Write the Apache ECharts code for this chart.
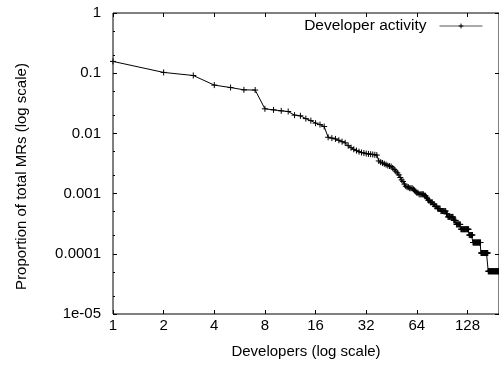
<!DOCTYPE html>
<html>
<head>
<meta charset="utf-8">
<script src="https://cdn.jsdelivr.net/npm/echarts@6/dist/echarts.min.js"></script>
<style>
    html, body { margin: 0; padding: 0; background: #fff; }
    #chart { width: 499px; height: 366px; }
</style>
</head>
<body>
<div id="chart"></div>
<script>
// share of all MRs per developer, ranked from most to least active (rank = index + 1)
const share = [
    0.157, 0.103, 0.0916, 0.0634, 0.0578, 0.0529, 0.0525,
    0.0256, 0.0246, 0.0237, 0.0231, 0.0201, 0.0196, 0.0176, 0.0163, 0.0148, 0.0140, 0.0130,
    0.00862, 0.00836, 0.00810, 0.00769, 0.00728, 0.00697, 0.00626, 0.00579, 0.00544, 0.00518,
    0.00497, 0.00482, 0.00472, 0.00462, 0.00456, 0.00451, 0.00446, 0.00441, 0.00436,
    0.00349, 0.00333, 0.00323, 0.00313, 0.00303, 0.00292, 0.00287, 0.00282, 0.00267,
    0.00251, 0.00236, 0.00221, 0.00205, 0.00185, 0.00169, 0.00159, 0.00144, 0.00133,
    0.00128, 0.00128, 0.00123, 0.00123, 0.00123, 0.00118, 0.00113, 0.00108, 0.00103, 0.00103,
    0.000974, 0.000974, 0.000974, 0.000974, 0.000974, 0.000923, 0.000923,
    0.000872, 0.000821, 0.000769, 0.000769, 0.000718, 0.000718, 0.000718, 0.000667, 0.000667,
    0.000615, 0.000615, 0.000615, 0.000564, 0.000564, 0.000564, 0.000564,
    0.000513, 0.000513, 0.000513, 0.000513, 0.000513, 0.000513, 0.000513, 0.000462, 0.000462,
    0.000410, 0.000410, 0.000410, 0.000410, 0.000410, 0.000410, 0.000410, 0.000410,
    0.000359, 0.000359, 0.000359, 0.000359,
    0.000308, 0.000308, 0.000308, 0.000308, 0.000308, 0.000308, 0.000308,
    0.000256, 0.000256, 0.000256, 0.000256, 0.000256, 0.000256, 0.000256,
    0.000256, 0.000256, 0.000256, 0.000256, 0.000256, 0.000256, 0.000256,
    0.000205, 0.000205, 0.000205, 0.000205, 0.000205, 0.000205, 0.000205,
    0.000154, 0.000154, 0.000154, 0.000154, 0.000154, 0.000154, 0.000154, 0.000154,
    0.000154, 0.000154, 0.000154, 0.000154, 0.000154, 0.000154, 0.000154, 0.000154,
    0.000103, 0.000103, 0.000103, 0.000103, 0.000103, 0.000103, 0.000103, 0.000103,
    0.000103, 0.000103, 0.000103, 0.000103, 0.000103, 0.000103, 0.000103, 0.000103,
    0.0000513, 0.0000513, 0.0000513, 0.0000513, 0.0000513, 0.0000513, 0.0000513,
    0.0000513, 0.0000513, 0.0000513, 0.0000513, 0.0000513, 0.0000513, 0.0000513,
    0.0000513, 0.0000513, 0.0000513, 0.0000513, 0.0000513, 0.0000513, 0.0000513,
    0.0000513, 0.0000513, 0.0000513, 0.0000513, 0.0000513, 0.0000513, 0.0000513
];
const xTicks = [1, 2, 4, 8, 16, 32, 64, 128];
const yTicks = [1e-5, 1e-4, 1e-3, 0.01, 0.1, 1];
const yTickLabels = ['1e-05', '0.0001', '0.001', '0.01', '0.1', '1'];
const yMinorTicks = [2e-5, 5e-5, 2e-4, 5e-4, 0.002, 0.005, 0.02, 0.05, 0.2, 0.5];

const font = '"Liberation Sans", Arial, sans-serif';
const black = '#000';

const chart = echarts.init(document.getElementById('chart'));

// shared settings for the log x axes (bottom + mirrored top)
function xAxisBase(pos) {
    return {
        type: 'log',
        logBase: 2,
        min: 1,
        max: 197,
        position: pos,
        axisLine: { show: false },
        splitLine: { show: false },
        axisTick: {
            inside: true,
            length: 4,
            lineStyle: { color: black },
            customValues: xTicks
        }
    };
}

function yAxisBase(pos) {
    return {
        type: 'log',
        logBase: 10,
        min: 1e-5,
        max: 1,
        position: pos,
        axisLine: { show: false },
        splitLine: { show: false },
        axisTick: {
            inside: true,
            length: 4,
            lineStyle: { color: black },
            customValues: yTicks
        }
    };
}

const bottomX = xAxisBase('bottom');
bottomX.name = 'Developers (log scale)';
bottomX.nameLocation = 'middle';
bottomX.nameGap = 30;
bottomX.nameTextStyle = { fontFamily: font, fontSize: 15, color: black };
bottomX.axisLabel = {
    customValues: xTicks,
    margin: 4,
    fontFamily: font,
    fontSize: 15,
    color: black,
    formatter: v => String(Math.round(v))
};
const topX = xAxisBase('top');
topX.axisLabel = { show: false };

const leftY = yAxisBase('left');
leftY.name = 'Proportion of total MRs (log scale)';
leftY.nameLocation = 'middle';
leftY.nameGap = 84;
// pushes the rotated title a little lower, like the original
leftY.nameTextStyle = { fontFamily: font, fontSize: 15, color: black, padding: [0, 26, 0, 0] };
leftY.axisLabel = {
    customValues: yTicks,
    margin: 12,
    fontFamily: font,
    fontSize: 15,
    color: black,
    formatter: v => yTickLabels[Math.round(Math.log10(v)) + 5]
};
const rightY = yAxisBase('right');
rightY.axisLabel = { show: false };
// minor ticks at 2x and 5x of each decade
const minorY = yAxisBase('left');
minorY.axisTick.length = 2;
minorY.axisTick.customValues = yMinorTicks;
minorY.axisLabel = { show: false };

const option = {
    animation: false,
    backgroundColor: '#fff',
    grid: {
        left: 113,
        right: -1,
        top: 13,
        bottom: 52,
        show: true,
        borderColor: black,
        borderWidth: 1
    },
    legend: {
        data: ['Developer activity'],
        right: 16,
        top: 18,
        padding: 0,
        align: 'right',
        itemWidth: 43,
        itemHeight: 6,
        lineStyle: { width: 1, color: '#555' },
        itemStyle: { borderWidth: 1 },
        textStyle: { fontFamily: font, fontSize: 15.5, color: black, padding: [0, 8, 0, 0] }
    },
    xAxis: [bottomX, topX],
    yAxis: [leftY, rightY, minorY],
    series: [{
        name: 'Developer activity',
        type: 'line',
        data: share.map((v, i) => [i + 1, v]),
        symbol: 'path://M0 5H10M5 0V10',
        symbolSize: 6,
        lineStyle: { color: black, width: 1 },
        itemStyle: { color: black, borderColor: black, borderWidth: 1 }
    }]
};

chart.setOption(option);
</script>
</body>
</html>
